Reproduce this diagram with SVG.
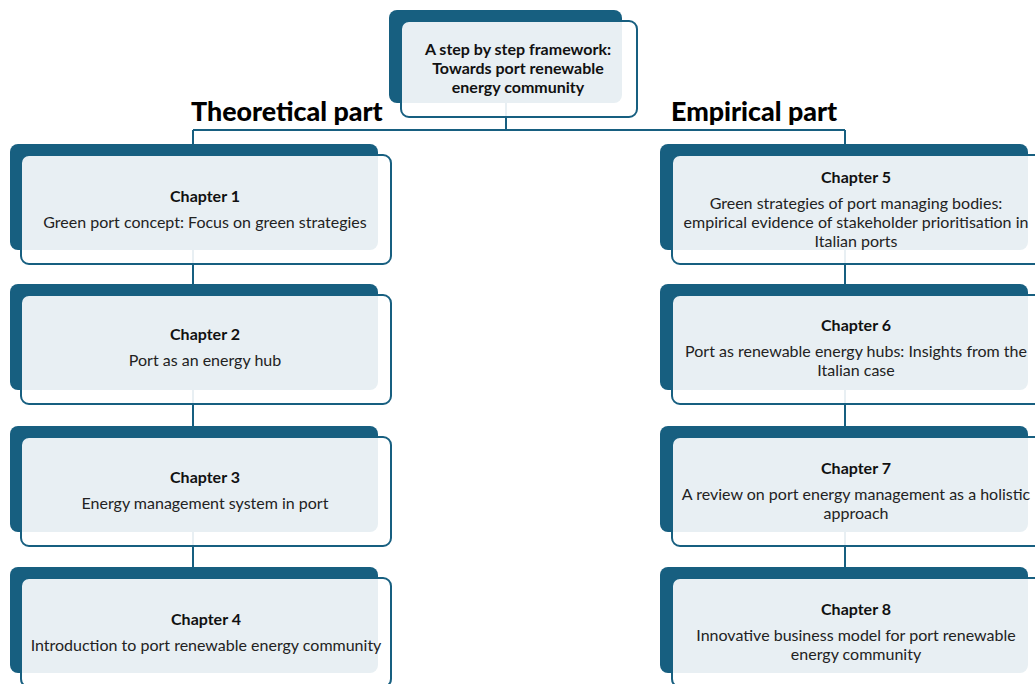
<svg xmlns="http://www.w3.org/2000/svg" width="1035" height="684" viewBox="0 0 1035 684">
  <style>
    .back { fill: #175f80; }
    .front { fill: #ffffff; fill-opacity: 0.9; stroke: #175f80; stroke-width: 2; }
    .conn { fill: none; stroke: #175f80; stroke-width: 2; }
    .head { font-family: Lato, "Open Sans", sans-serif; font-weight: bold; font-size: 16px; fill: #111; text-anchor: middle; }
    .body { font-family: Lato, "Open Sans", sans-serif; font-size: 16px; fill: #222; text-anchor: middle; }
    .part { font-family: Lato, "Open Sans", sans-serif; font-weight: 900; font-size: 26.8px; fill: #000; }
  </style>

  <!-- connectors (drawn beneath the boxes) -->
  <g id="connectors">
    <path class="conn" d="M506 100 V130 M193 130 H845 M193 130 V620 M845 130 V620"/>
  </g>

  <!-- section headings -->
  <text class="part" x="191" y="121">Theoretical part</text>
  <text class="part" x="671" y="121">Empirical part</text>

  <!-- root node -->
  <g id="framework">
    <rect class="back" x="389" y="10" width="233" height="93" rx="8"/>
    <rect class="front" x="401" y="21" width="236" height="96" rx="8"/>
    <text class="head" x="518" y="55">A step by step framework:</text>
    <text class="head" x="518" y="74">Towards port renewable</text>
    <text class="head" x="518" y="93">energy community</text>
  </g>

  <!-- theoretical chapters -->
  <g id="chapter1">
    <rect class="back" x="10" y="144" width="368" height="106" rx="8"/>
    <rect class="front" x="21" y="155" width="370" height="109" rx="8"/>
    <text class="head" x="205" y="202">Chapter 1</text>
    <text class="body" x="205" y="228">Green port concept: Focus on green strategies</text>
  </g>
  <g id="chapter2">
    <rect class="back" x="10" y="284" width="368" height="106" rx="8"/>
    <rect class="front" x="21" y="295" width="370" height="109" rx="8"/>
    <text class="head" x="205" y="340">Chapter 2</text>
    <text class="body" x="205" y="366">Port as an energy hub</text>
  </g>
  <g id="chapter3">
    <rect class="back" x="10" y="426" width="368" height="106" rx="8"/>
    <rect class="front" x="21" y="437" width="370" height="109" rx="8"/>
    <text class="head" x="205" y="483">Chapter 3</text>
    <text class="body" x="205" y="509">Energy management system in port</text>
  </g>
  <g id="chapter4">
    <rect class="back" x="10" y="567" width="368" height="106" rx="8"/>
    <rect class="front" x="21" y="578" width="370" height="109" rx="8"/>
    <text class="head" x="206" y="625">Chapter 4</text>
    <text class="body" x="206" y="651">Introduction to port renewable  energy community</text>
  </g>

  <!-- empirical chapters -->
  <g id="chapter5">
    <rect class="back" x="660" y="144" width="368" height="106" rx="8"/>
    <rect class="front" x="672" y="155" width="370" height="109" rx="8"/>
    <text class="head" x="856" y="183">Chapter 5</text>
    <text class="body" x="856" y="209">Green strategies of port managing bodies:</text>
    <text class="body" x="856" y="228">empirical evidence of stakeholder prioritisation in</text>
    <text class="body" x="856" y="247">Italian ports</text>
  </g>
  <g id="chapter6">
    <rect class="back" x="660" y="284" width="368" height="106" rx="8"/>
    <rect class="front" x="672" y="295" width="370" height="109" rx="8"/>
    <text class="head" x="856" y="331">Chapter 6</text>
    <text class="body" x="856" y="357">Port as renewable energy hubs: Insights from the</text>
    <text class="body" x="856" y="376">Italian case</text>
  </g>
  <g id="chapter7">
    <rect class="back" x="660" y="426" width="368" height="106" rx="8"/>
    <rect class="front" x="672" y="437" width="370" height="109" rx="8"/>
    <text class="head" x="856" y="474">Chapter 7</text>
    <text class="body" x="856" y="500">A review on port energy management as a holistic</text>
    <text class="body" x="856" y="519">approach</text>
  </g>
  <g id="chapter8">
    <rect class="back" x="660" y="567" width="368" height="106" rx="8"/>
    <rect class="front" x="672" y="578" width="370" height="109" rx="8"/>
    <text class="head" x="856" y="615">Chapter 8</text>
    <text class="body" x="856" y="641">Innovative business model for port renewable</text>
    <text class="body" x="856" y="660">energy community</text>
  </g>
</svg>
